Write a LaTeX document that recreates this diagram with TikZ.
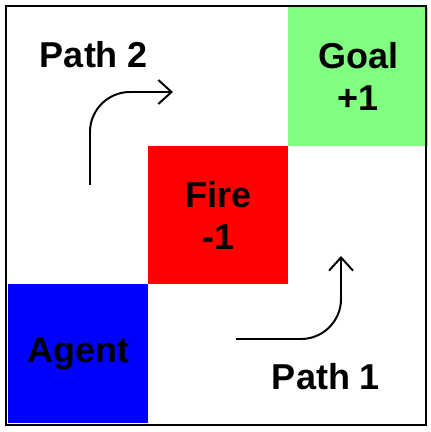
\documentclass[tikz,border=0pt]{standalone}
\usepackage{fontspec}
\setmainfont{Liberation Sans}
\usepackage{xcolor}
\usetikzlibrary{arrows.meta, positioning}
\definecolor{goalgreen}{HTML}{80FF80}

\begin{document}
\begin{tikzpicture}[
    x=0.025cm, y=0.025cm,
    node distance=0cm and 0cm,
    cell/.style={rectangle, fill=#1, minimum width=3.5cm, minimum height=3.4625cm, inner sep=0pt, outer sep=0pt, align=center, font=\fontsize{25.6}{29.9}\selectfont\bfseries},
    lbl/.style={font=\fontsize{25.6}{29.9}\selectfont\bfseries, inner sep=0pt},
    arr/.style={-{Straight Barb[length=3.3mm, width=6mm]}, line width=1.4pt, rounded corners=1cm},
]
\useasboundingbox (0,0) rectangle (431,432);
\node[cell=blue, anchor=south west] (agent) at (8,9) {Agent};
\node[cell=red, above right=of agent] (fire) {Fire\\-1};
\node[cell=goalgreen, above right=of fire] (goal) {Goal\\+1};

\node[lbl] (path2) at (94,377) {Path 2};
\node[lbl] (path1) at (326,55) {Path 1};

% path arrows
\coordinate (p2a) at (90,247);
\coordinate (p2b) at (173,340);
\coordinate (p1a) at (236,93);
\coordinate (p1b) at (341,176);
\draw[arr] (p2a) |- (p2b);
\draw[arr] (p1a) -| (p1b);

% grid border
\draw[line width=1.8pt] (6,7) rectangle (426,426);
\end{tikzpicture}
\end{document}
